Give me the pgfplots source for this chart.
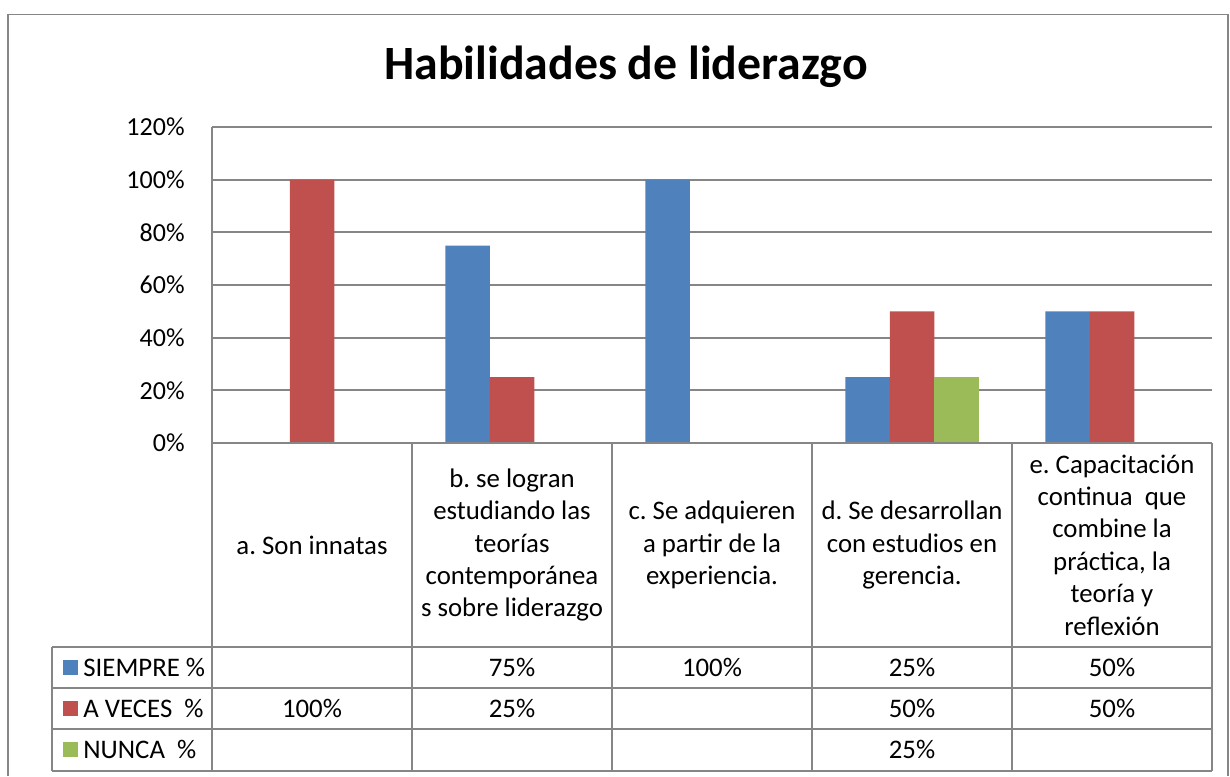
\documentclass[border=0pt]{standalone}
\usepackage{pgfplots}
\pgfplotsset{compat=1.18}
\usepackage{fontspec}
\setmainfont{Carlito}
\frenchspacing
\definecolor{cblue}{HTML}{4F81BD}
\definecolor{cred}{HTML}{C0504D}
\definecolor{cgreen}{HTML}{9BBB59}
\definecolor{cgrid}{HTML}{868686}
\newcommand{\tf}{\fontsize{13pt}{16.2pt}\selectfont}
\newcommand{\tbf}{\fontsize{13.4pt}{16.2pt}\selectfont}
\begin{document}
\begin{tikzpicture}
\begin{scope}[x=0.5pt,y=-0.5pt]
\path (0,0) rectangle (1230,776);
\draw[cgrid, line width=0.8pt] (8,776) -- (8,14.5) -- (1228,14.5) -- (1228,776);
\node[anchor=base, font=\fontsize{23.9pt}{28pt}\selectfont\bfseries] at (626,79) {Habilidades de liderazgo};
\end{scope}
\begin{axis}[
  at={(106pt,-221.5pt)}, anchor=south west,
  width=500pt, height=158pt, scale only axis,
  xmin=0, xmax=5, ymin=0, ymax=120,
  axis line style={draw=none},
  xtick=\empty,
  ytick={0,20,...,120},
  ymajorgrids, grid style={cgrid, line width=1pt},
  major tick length=0pt,
  /pgf/number format/assume math mode=true,
  yticklabel={\pgfmathprintnumber{\tick}\%},
  yticklabel style={font=\tf, anchor=east, inner sep=0pt, xshift=-13.5pt},
  clip=false,
]
\addplot[ybar, bar width=22.25pt, bar shift=-22.25pt, fill=cblue, draw=none] coordinates {(1.5,75) (2.5,100) (3.5,25) (4.5,50)};
\addplot[ybar, bar width=22.25pt, bar shift=0pt, fill=cred, draw=none] coordinates {(0.5,100) (1.5,25) (3.5,50) (4.5,50)};
\addplot[ybar, bar width=22.25pt, bar shift=22.25pt, fill=cgreen, draw=none] coordinates {(3.5,25)};
\end{axis}
\begin{scope}[x=0.5pt,y=-0.5pt]
% axis lines and table
\draw[cgrid, line width=1pt] (212,127) -- (212,771);
\foreach \xx in {412,612,812,1012,1212} \draw[cgrid, line width=1pt] (\xx,443) -- (\xx,771);
\draw[cgrid, line width=1pt] (212,443) -- (1212,443);
\foreach \yy in {647,688,729,771} \draw[cgrid, line width=1pt] (52,\yy) -- (1212,\yy);
\draw[cgrid, line width=1pt] (52,647) -- (52,771);
% header texts
\tikzset{hd/.style={align=center, font=\tbf, inner sep=0pt}}
\node[hd] at (312,545) {a. Son innatas};
\node[hd] at (512,545) {b. se logran\\estudiando las\\teorías\\contemporánea\\s sobre liderazgo};
\node[hd] at (712,545) {c. Se adquieren\\a partir de la\\experiencia.};
\node[hd] at (912,545) {d. Se desarrollan\\con estudios en\\gerencia.};
\node[hd] at (1112,545) {e. Capacitación\\continua\ \ que\\combine la\\práctica, la\\teoría y\\reflexión};
% legend column
\fill[cblue] (63,659.5) rectangle (78,674.5);
\fill[cred] (63,700.5) rectangle (78,715.5);
\fill[cgreen] (63,741.5) rectangle (78,756.5);
\node[anchor=west, font=\tbf, inner sep=0pt] at (83,667.5) {SIEMPRE \%};
\node[anchor=west, font=\tbf, inner sep=0pt] at (83,708.5) {A VECES\ \ \%};
\node[anchor=west, font=\tbf, inner sep=0pt] at (83,749.5) {NUNCA\ \ \%};
% values
\node[hd] at (512,667.5) {75\%};
\node[hd] at (712,667.5) {100\%};
\node[hd] at (912,667.5) {25\%};
\node[hd] at (1112,667.5) {50\%};
\node[hd] at (312,708.5) {100\%};
\node[hd] at (512,708.5) {25\%};
\node[hd] at (912,708.5) {50\%};
\node[hd] at (1112,708.5) {50\%};
\node[hd] at (912,749.5) {25\%};
\end{scope}
\end{tikzpicture}
\end{document}
